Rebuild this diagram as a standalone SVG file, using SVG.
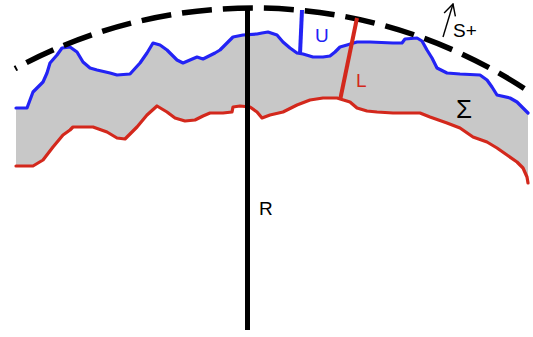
<svg xmlns="http://www.w3.org/2000/svg" width="533" height="337" viewBox="0 0 533 337">
<style>
.lbl{font-family:"Liberation Sans",Arial,Helvetica,sans-serif;font-size:19px}
.blue{stroke:#2323f5;fill:none;stroke-width:3.2;stroke-linejoin:round;stroke-linecap:round}
.red{stroke:#d3281c;fill:none;stroke-width:3.2;stroke-linejoin:round;stroke-linecap:round}
</style>
<defs>
<marker id="openArrow" viewBox="0 0 10 10" refX="9" refY="5" markerWidth="14" markerHeight="14" markerUnits="userSpaceOnUse" orient="auto">
<path d="M1,0.8 L9,5 L1,9.2" fill="none" stroke="#000" stroke-width="1"/>
</marker>
</defs>
<rect width="533" height="337" fill="#fff"/>
<g id="layer">
<polygon fill="#c8c8c8" points="16,108 27,108 30,100 33,92 38,87 43,82 47,73 50,63 57,55 62,48 70,47 77,52 83,62 90,68 97,70 110,73 117,75 130,74 140,63 147,53 153,43 160,45 167,50 177,60 183,63 190,60 197,57 203,59 207,57 215,53 220,50 227,43 233,37 243,35 257,34 262,33 268,32 277,35 283,42 290,48 297,53 303,54 313,57 323,57 330,56 335,52 340,47 347,45 357,42 370,42 393,43 402,43 405,39 417,38 422,41 427,50 432,58 437,68 447,73 460,74 480,75 487,80 492,87 497,95 510,98 517,102 523,108 528,113 528,183 527,177 523,168 517,162 507,155 497,148 487,142 473,137 460,128 447,123 430,117 420,113 408,113 393,113 377,112 367,111 357,108 350,102 337,98 323,98 310,100 297,105 283,112 270,115 262,118 257,112 250,107 240,106 233,107 232,112 223,113 210,113 203,116 195,120 185,121 175,118 167,112 157,106 147,115 137,127 125,139 117,138 107,132 93,127 73,127 70,130 63,135 53,147 43,160 33,166 16,166"/>
</g>
<g id="upper-surface">
<polyline class="blue" points="16,108 27,108 30,100 33,92 38,87 43,82 47,73 50,63 57,55 62,48 70,47 77,52 83,62 90,68 97,70 110,73 117,75 130,74 140,63 147,53 153,43 160,45 167,50 177,60 183,63 190,60 197,57 203,59 207,57 215,53 220,50 227,43 233,37 243,35 257,34 262,33 268,32 277,35 283,42 290,48 297,53 303,54 313,57 323,57 330,56 335,52 340,47 347,45 357,42 370,42 393,43 402,43 405,39 417,38 422,41 427,50 432,58 437,68 447,73 460,74 480,75 487,80 492,87 497,95 510,98 517,102 523,108 528,113"/>
</g>
<g id="lower-surface">
<polyline class="red" points="16,166 33,166 43,160 53,147 63,135 70,130 73,127 93,127 107,132 117,138 125,139 137,127 147,115 157,106 167,112 175,118 185,121 195,120 203,116 210,113 223,113 232,112 233,107 240,106 250,107 257,112 262,118 270,115 283,112 297,105 310,100 323,98 337,98 350,102 357,108 367,111 377,112 393,113 408,113 420,113 430,117 447,123 460,128 473,137 487,142 497,148 507,155 517,162 523,168 527,177 528,183"/>
</g>
<g id="reference-arc">
<path d="M15,68.7 A497,497 0 0 1 525,89" fill="none" stroke="#000" stroke-width="5.5" stroke-dasharray="30 11" stroke-dashoffset="28"/>
</g>
<g id="connectors">
<line id="radius-line" x1="247.5" y1="8" x2="247.5" y2="330" stroke="#000" stroke-width="5"/>
<line id="U-line" x1="302" y1="10" x2="300" y2="54" stroke="#2323f5" stroke-width="4"/>
<line id="L-line" x1="357" y1="18" x2="340.5" y2="98" stroke="#d3281c" stroke-width="4"/>
<line id="S-arrow" x1="443" y1="37" x2="453" y2="4" stroke="#000" stroke-width="1.4" marker-end="url(#openArrow)"/>
</g>
<g id="label-R"><text class="lbl" x="259" y="215" fill="#000">R</text></g>
<g id="label-U"><text class="lbl" x="315" y="42" fill="#2323f5">U</text></g>
<g id="label-L"><text class="lbl" x="356" y="87" fill="#d3281c">L</text></g>
<g id="label-S"><text class="lbl" x="453" y="37" fill="#000">S+</text></g>
<g id="label-sigma"><text class="lbl" x="456" y="118" fill="#000" style="font-size:26px">Σ</text></g>
</svg>
